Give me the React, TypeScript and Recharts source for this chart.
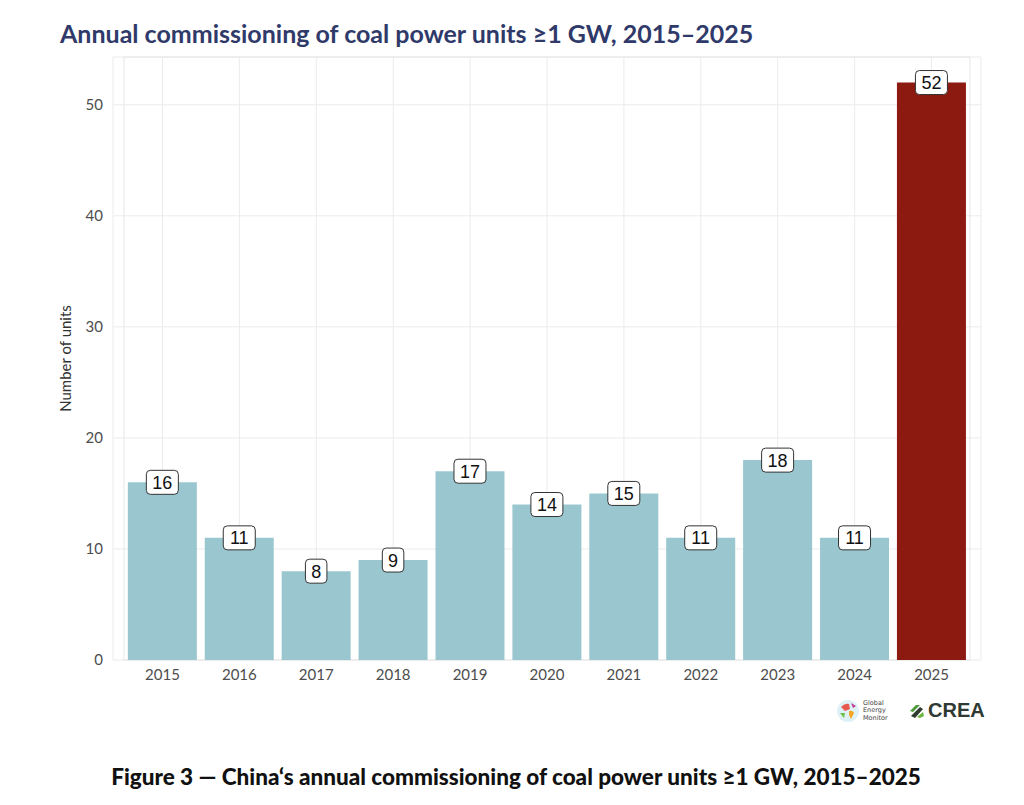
import { BarChart, Bar, XAxis, YAxis, CartesianGrid, Cell, LabelList, ReferenceArea } from "recharts";

const years = ["2015", "2016", "2017", "2018", "2019", "2020", "2021", "2022", "2023", "2024", "2025"];
const units = [16, 11, 8, 9, 17, 14, 15, 11, 18, 11, 52];
const yTicks = [0, 10, 20, 30, 40, 50];
const highlightYear = "2025";

const data = years.map((y, i) => ({ year: y, units: units[i] }));

const AXIS_FONT = "Lato, 'Open Sans', sans-serif";
const Y_MAX = 54.3;

function ValueTag(props: any) {
  const { x, y, width, value } = props;
  const txt = String(value);
  const w = txt.length * 10.5 + 11;
  const h = 24;
  const cx = x + width / 2;
  return (
    <g>
      <rect x={cx - w / 2} y={y - h / 2} width={w} height={h} rx={4} fill="#fff" stroke="#333" strokeWidth={1} />
      <text x={cx} y={y + 6.5} textAnchor="middle" fontSize={18} fill="#111" fontFamily="'Liberation Sans', Arial, sans-serif">
        {txt}
      </text>
    </g>
  );
}

export default function App() {
  return (
    <div style={{ position: "absolute", left: 0, top: 0, width: 1024, height: 805, background: "#fff", overflow: "hidden" }}>
      <div style={{ position: "absolute", left: 60, top: 18, fontFamily: "Lato, sans-serif", fontWeight: 700, fontSize: 25, color: "#2F3A6A" }}>
        Annual commissioning of coal power units ≥1 GW, 2015–2025
      </div>

      <BarChart
        width={1024}
        height={805}
        data={data}
        margin={{ top: 57, right: 43, bottom: 115, left: 0 }}
        barCategoryGap="5%"
        style={{ position: "absolute", left: 0, top: 0 }}
      >
        <CartesianGrid stroke="#EBEBEB" strokeWidth={1} />
        <ReferenceArea y1={0} y2={Y_MAX} fill="none" stroke="#E6E6E6" strokeWidth={1} ifOverflow="extendDomain" />
        <XAxis
          dataKey="year"
          tickLine={false}
          axisLine={false}
          tickSize={0}
          tickMargin={9}
          height={30}
          padding={{ left: 11, right: 11 }}
          tick={{ fill: "#4D4D4D", fontSize: 15, fontFamily: AXIS_FONT }}
        />
        <YAxis
          width={113}
          domain={[0, Y_MAX]}
          ticks={yTicks}
          tickLine={false}
          axisLine={false}
          tickSize={0}
          tickMargin={10}
          tick={{ fill: "#4D4D4D", fontSize: 15, fontFamily: AXIS_FONT }}
          label={{
            content: ({ viewBox }: any) => {
              const cy = viewBox.y + viewBox.height / 2;
              return (
                <text x={71} y={cy} transform={`rotate(-90, 71, ${cy})`} textAnchor="middle" fontSize={15} fill="#333" fontFamily={AXIS_FONT}>
                  Number of units
                </text>
              );
            },
          }}
        />
        <Bar dataKey="units" isAnimationActive={false}>
          {data.map((d) => (
            <Cell key={d.year} fill={d.year === highlightYear ? "#8C1A11" : "#9AC7CF"} />
          ))}
          <LabelList dataKey="units" content={<ValueTag />} />
        </Bar>
      </BarChart>

      <div style={{ position: "absolute", left: 836, top: 699, display: "flex", alignItems: "center" }}>
        <svg width={24} height={24}>
          <circle cx={12} cy={12} r={11} fill="#DDF1F7" />
          <path d="M5 8 Q9 4 13 5 L14 10 L9 12 Z" fill="#E85A4F" />
          <path d="M13 12 Q17 11 18 14 L15 20 L13 16 Z" fill="#F5A623" />
          <path d="M4 14 L9 14 L8 19 Z" fill="#6CC04A" />
          <path d="M15 4 L20 7 L17 9 Z" fill="#C0398E" />
        </svg>
        <div style={{ marginLeft: 3, fontFamily: "'DejaVu Sans', sans-serif", fontSize: 6.5, lineHeight: "7.5px", color: "#444" }}>
          Global<br />Energy<br />Monitor
        </div>
      </div>
      <div style={{ position: "absolute", left: 908, top: 699, display: "flex", alignItems: "center" }}>
        <svg width={18} height={18}>
          <path d="M2 9 L8 3 L12 3 L5 10 Z" fill="#4C9A3A" />
          <path d="M3 14 L12 5 L15 7 L7 16 Z" fill="#2E3B2E" />
          <path d="M9 15 L15 10 L16 14 L12 16 Z" fill="#6DB33F" />
        </svg>
        <div style={{ marginLeft: 2, fontFamily: "'Liberation Sans', Arial, sans-serif", fontWeight: 700, fontSize: 20, color: "#2F3A33" }}>
          CREA
        </div>
      </div>

      <div style={{ position: "absolute", left: 0, width: 1032, top: 763, textAlign: "center", fontFamily: "Lato, sans-serif", fontWeight: 900, fontSize: 22.5, color: "#111" }}>
        Figure 3 — China‘s annual commissioning of coal power units ≥1 GW, 2015–2025
      </div>
    </div>
  );
}
